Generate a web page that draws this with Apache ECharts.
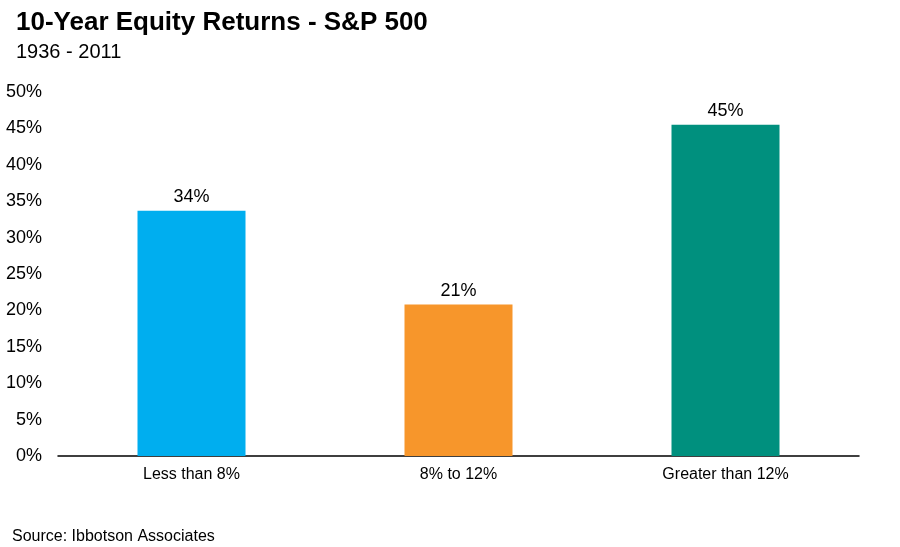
<!DOCTYPE html>
<html>
<head>
<meta charset="utf-8">
<script src="https://cdn.jsdelivr.net/npm/echarts@6/dist/echarts.min.js"></script>
<style>html,body{margin:0;padding:0;background:#fff}#c{width:900px;height:547px}</style>
</head>
<body>
<div id="c"></div>
<script>
var categories = ['Less than 8%', '8% to 12%', 'Greater than 12%'];
var values = [33.7, 20.8, 45.5];
var valueLabels = ['34%', '21%', '45%'];
var barColors = ['#00AEEF', '#F7962B', '#00907E'];
var yTicks = { min: 0, max: 50, interval: 5 };

var FONT = '"Liberation Sans", Arial, sans-serif';
var chart = echarts.init(document.getElementById('c'), null, { renderer: 'canvas' });
chart.setOption({
  backgroundColor: '#ffffff',
  animation: false,
  title: [
    { text: '10-Year Equity Returns - S&P 500', left: 11, top: 5,
      textStyle: { fontFamily: FONT, fontSize: 26, fontWeight: 'bold', color: '#000' } },
    { text: '1936 - 2011', left: 11, top: 37,
      textStyle: { fontFamily: FONT, fontSize: 20, fontWeight: 'normal', color: '#000' } },
    { text: 'Source: Ibbotson Associates', left: 7, top: 524,
      textStyle: { fontFamily: FONT, fontSize: 16, fontWeight: 'normal', color: '#000' } }
  ],
  grid: { left: 58, right: 41, top: 92, bottom: 91, containLabel: false },
  xAxis: {
    type: 'category',
    data: categories,
    axisLine: { show: true, lineStyle: { color: '#000', width: 1.5 } },
    axisTick: { show: false },
    axisLabel: { fontFamily: FONT, fontSize: 16, color: '#000', margin: 11 }
  },
  yAxis: {
    type: 'value',
    min: yTicks.min, max: yTicks.max, interval: yTicks.interval,
    axisLine: { show: false },
    axisTick: { show: false },
    splitLine: { show: false },
    axisLabel: { fontFamily: FONT, fontSize: 18, color: '#000', margin: 16,
      formatter: function (v) { return v + '%'; } }
  },
  series: [{
    type: 'bar',
    barWidth: 108,
    data: values.map(function (v, i) {
      return { value: v, itemStyle: { color: barColors[i] } };
    }),
    label: {
      show: true, position: 'top', distance: 5,
      fontFamily: FONT, fontSize: 18, color: '#000',
      formatter: function (p) { return valueLabels[p.dataIndex]; }
    }
  }]
});
</script>
</body>
</html>
